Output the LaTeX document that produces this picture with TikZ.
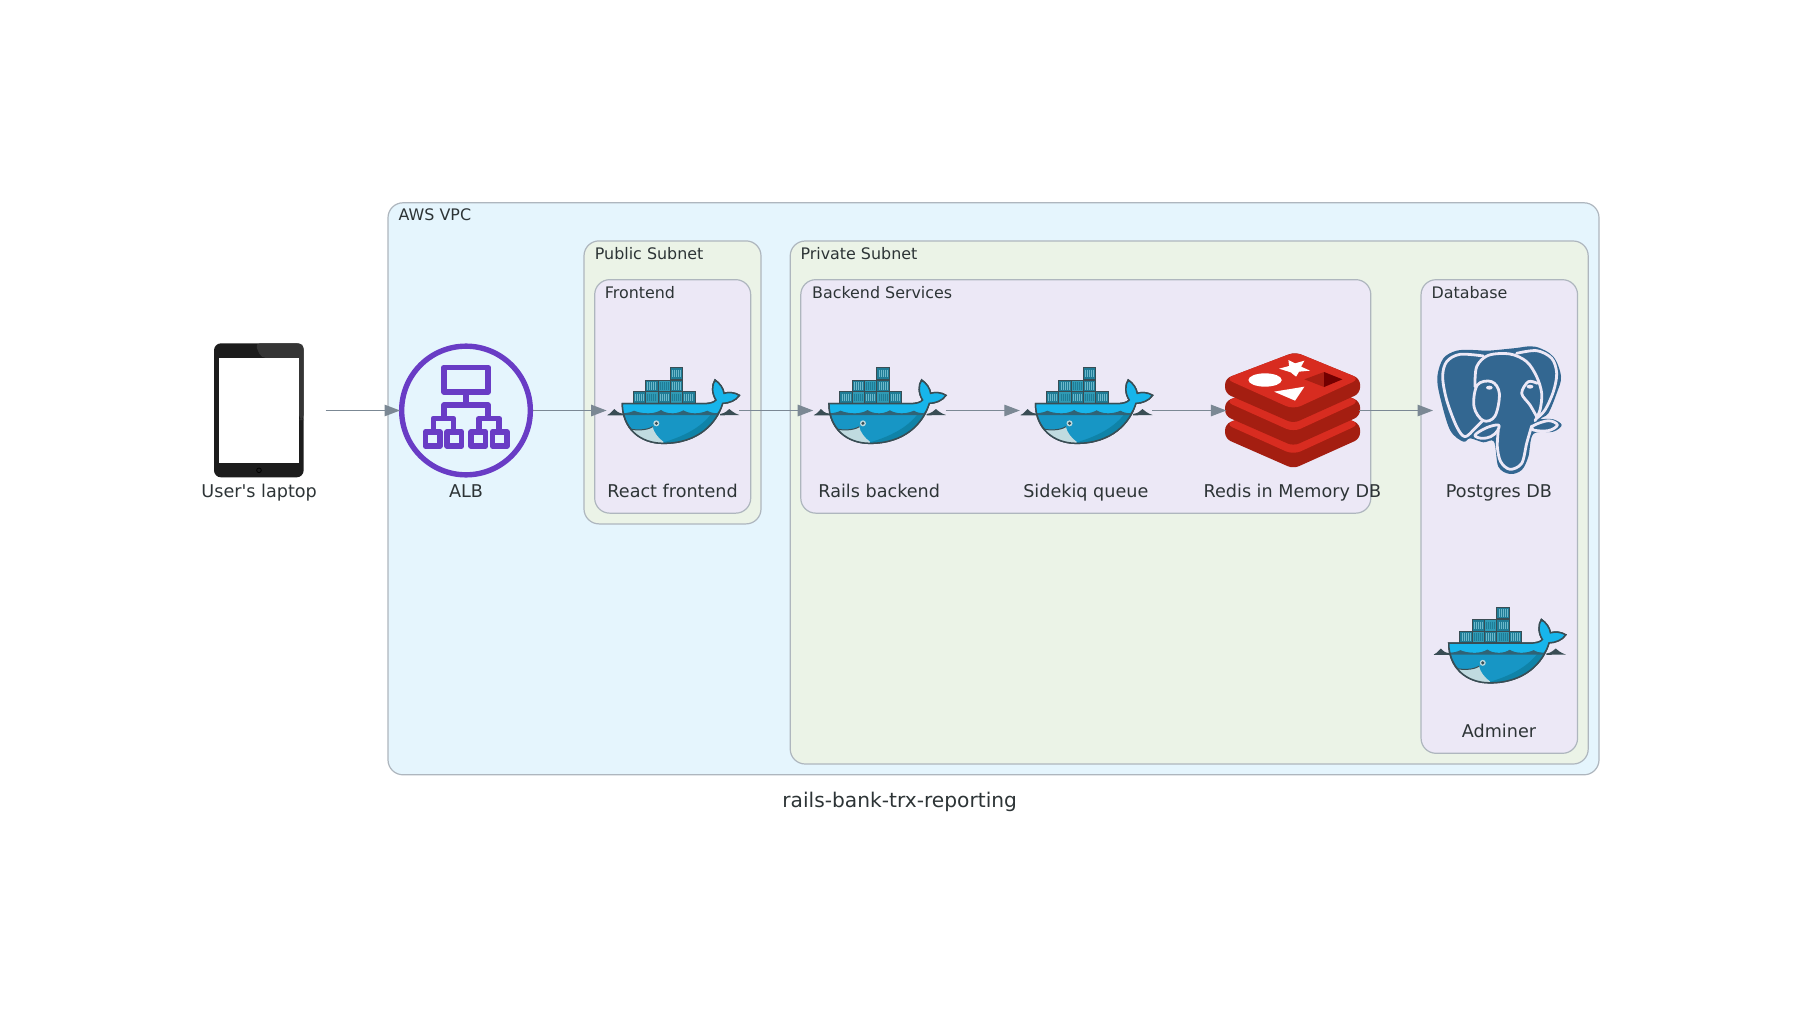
\documentclass[tikz,border=0pt]{standalone}
\usepackage{fontspec}
\newfontfamily\labelfont{DejaVu Sans}
\usetikzlibrary{arrows.meta}
\definecolor{edgegray}{HTML}{7B8894}
\definecolor{boxline}{HTML}{AEB6BE}
\definecolor{vpcfill}{HTML}{E5F5FD}
\definecolor{subfill}{HTML}{EBF3E7}
\definecolor{svcfill}{HTML}{ECE8F6}
\definecolor{inktext}{HTML}{2D3436}
\definecolor{albpurple}{HTML}{693CC5}
\definecolor{whaleink}{HTML}{394D54}
\definecolor{whalemid}{HTML}{1796C5}
\definecolor{whalelight}{HTML}{17B5EB}
\definecolor{whaledark}{HTML}{0F83A8}
\definecolor{whalebelly}{HTML}{C0DBE0}
\definecolor{crateA}{HTML}{1F7C96}
\definecolor{crateB}{HTML}{2F9AB5}
\definecolor{redistop}{HTML}{D82C20}
\definecolor{redisside}{HTML}{A41E11}
\definecolor{pgblue}{HTML}{336791}
\definecolor{tabletdark}{HTML}{1C1C1C}
\definecolor{tabletglare}{HTML}{353535}
\tikzset{
  clusterbox/.style={draw=boxline,line width=1.2pt,rounded corners=15pt,inner sep=0pt,outer sep=0pt},
  iconbox/.style={minimum size=134pt,inner sep=0pt,outer sep=0pt},
  nodetext/.style={anchor=base,text=inktext,inner sep=0pt,font=\labelfont\fontsize{17.6}{20}\selectfont},
  clustertext/.style={anchor=base west,text=inktext,inner sep=0pt,font=\labelfont\fontsize{15.9}{18}\selectfont},
  flow/.style={draw=edgegray,line width=1.2pt,shorten >=-1pt,shorten <=-.5pt,-{Triangle[length=15.5pt,width=11.5pt]}},
  crate/.pic={
    \fill[crateA,draw=whaleink,line width=.9pt] (0,0) rectangle (37,35);
    \foreach \k in {8,14,20,26,32}{\draw[crateB!70!white,line width=.45pt] (\k-2,6) -- (\k-2,29);}
  },
  cratelight/.pic={
    \fill[crateB,draw=whaleink,line width=.9pt] (0,0) rectangle (37,35);
    \foreach \k in {8,14,20,26,32}{\draw[crateA,line width=.45pt] (\k-2,6) -- (\k-2,29);}
  },
  whalepic/.pic={
    \begin{scope}[x=.33333pt,y=-.33333pt,shift={(-187.8,-151.5)}]
      \foreach \cx/\cy in {70/95,144/95,218/95,107/60,181/60,181/23}{\pic at (\cx,\cy) {crate};}
      \foreach \cx/\cy in {107/95,181/95,144/60}{\pic at (\cx,\cy) {cratelight};}
      \fill[whaleink] (-8,165) .. controls (4,160) and (8,150) .. (13,147) .. controls (18,152) and (24,160) .. (40,161) -- (40,166) -- (-8,166) -- cycle;
      \fill[whaleink] (330,162) .. controls (345,160) and (352,152) .. (358,147) .. controls (364,152) and (372,160) .. (388,165) -- (330,166) -- cycle;
      \path[draw=whaleink,line width=1.5pt,fill=whalemid,save path=\whalebody]
        (37,131) -- (280,131) .. controls (297,131) and (312,128) .. (318,120)
        .. controls (305,100) and (305,75) .. (315,60)
        .. controls (330,70) and (340,85) .. (342,100)
        .. controls (355,96) and (375,97) .. (388,106)
        .. controls (378,122) and (355,130) .. (338,130)
        .. controls (320,190) and (265,250) .. (160,250)
        .. controls (90,250) and (37,205) .. (37,131) -- cycle;
      \begin{scope}
        \clip[use path=\whalebody];
        \fill[whaledark] (150,250) .. controls (240,225) and (290,190) .. (318,140) -- (350,250) -- cycle;
        \fill[whalelight] (30,125) -- (400,50) -- (400,125) -- (340,135) -- (320,160)
          .. controls (305,160) and (298,156) .. (292,152)
          .. controls (284,156) and (270,160) .. (255,160)
          .. controls (240,160) and (228,156) .. (220,151)
          .. controls (212,156) and (200,160) .. (188,160)
          .. controls (172,160) and (160,156) .. (153,150)
          .. controls (145,156) and (130,160) .. (115,160)
          .. controls (95,160) and (80,156) .. (72,152)
          .. controls (65,156) and (55,160) .. (30,160) -- cycle;
        \fill[whaleink!70!whalemid] (30,160)
          .. controls (55,160) and (65,156) .. (72,152)
          .. controls (80,156) and (95,160) .. (115,160)
          .. controls (130,160) and (145,156) .. (153,150)
          .. controls (160,156) and (172,160) .. (188,160)
          .. controls (200,160) and (212,156) .. (220,151)
          .. controls (228,156) and (240,160) .. (255,160)
          .. controls (270,160) and (284,156) .. (292,152)
          .. controls (298,156) and (305,160) .. (330,160) -- (330,165) -- (30,165) -- cycle;
        \fill[whalebelly] (50,205) .. controls (75,212) and (110,212) .. (128,200)
          .. controls (130,215) and (145,235) .. (160,245) -- (160,260) -- (50,260) -- cycle;
        \draw[whaleink,line width=1pt] (50,205) .. controls (75,212) and (110,212) .. (128,200);
      \end{scope}
      \draw[whaleink,line width=1.5pt] (37,131) -- (280,131) .. controls (297,131) and (312,128) .. (318,120)
        .. controls (305,100) and (305,75) .. (315,60)
        .. controls (330,70) and (340,85) .. (342,100)
        .. controls (355,96) and (375,97) .. (388,106)
        .. controls (378,122) and (355,130) .. (338,130)
        .. controls (320,190) and (265,250) .. (160,250)
        .. controls (90,250) and (37,205) .. (37,131) -- cycle;
      \fill[whalebelly] (139,190) circle[radius=9];
      \fill[whaleink] (139,190) circle[radius=5];
    \end{scope}
  },
  tabletpic/.pic={
    \begin{scope}[x=.33333pt,y=-.33333pt,shift={(-237.6,-271.5)}]
      \fill[tabletdark,rounded corners=7pt] (102,70) rectangle (371,472);
      \fill[tabletglare,rounded corners=5pt] (225,70) -- (371,70) -- (371,300) -- (357,300) -- (357,114) -- (243,114) -- cycle;
      \fill[white] (118,114) rectangle (356,430);
      \draw[black,line width=.8pt] (237,451) circle[radius=7];
    \end{scope}
  },
  albpic/.pic={
    \begin{scope}[x=.33333pt,y=-.33333pt,shift={(-858,-271.5)}]
      \draw[albpurple,line width=5.4pt] (858,271.5) circle[radius=193];
      \begin{scope}[draw=albpurple,line width=5.6pt,line join=round]
        \draw (792,142) rectangle (924,216);
        \draw (858,216) -- (858,255);
        \draw (792,292) -- (792,255) -- (924,255) -- (924,292);
        \draw (760,332) -- (760,295) -- (820,295) -- (820,332);
        \draw (897,332) -- (897,295) -- (957,295) -- (957,332);
        \foreach \bx in {736,801,873,937}{\draw (\bx,336) rectangle (\bx+44,378);}
      \end{scope}
    \end{scope}
  },
  redispic/.pic={
    \begin{scope}[x=.33333pt,y=-.33333pt,shift={(-232,-211.5)}]
      \foreach \dy in {136,68,0}{
        \begin{scope}[yshift=-\dy*.33333pt]
          \fill[redisside,rounded corners=6pt] (30,116) -- (30,160) -- (235,250) -- (435,160) -- (435,116) -- (240,36) -- cycle;
          \fill[redistop,rounded corners=8pt] (30,116) -- (240,36) -- (435,116) -- (235,208) -- cycle;
        \end{scope}
      }
      \fill[white] (220,60) -- (240,70) -- (268,62) -- (258,80) -- (285,92) -- (252,95) -- (243,110) -- (227,97) -- (192,86) -- (222,78) -- cycle;
      \fill[white] (150,120) ellipse[x radius=50,y radius=20];
      \fill[white] (177,155) -- (268,140) -- (240,182) -- cycle;
      \fill[redisside!90!redistop] (268,118) -- (327,96) -- (327,141) -- cycle;
      \fill[black!50!red!90!black] (327,96) -- (382,118) -- (327,141) -- cycle;
    \end{scope}
  },
  pgpic/.pic={
    \begin{scope}[x=.33333pt,y=-.33333pt,shift={(-237,-241.5)}]
      \fill[pgblue,line join=round] plot[smooth cycle,tension=.55] coordinates {
        (205,62) (280,55) (345,50) (400,80) (423,140) (410,190) (385,250) (362,266) (400,268) (425,285) (400,305) (340,312)
        (325,380) (305,420) (270,432) (235,410) (222,335) (190,337) (150,325) (130,335) (90,300) (60,200) (52,140) (70,85) (110,62) (160,60)};
      \begin{scope}[draw=svcfill,line width=2.8pt,line cap=round,line join=round]
        \draw plot[smooth,tension=.55] coordinates {(190,78) (120,73) (80,95) (68,140) (80,210) (110,290) (135,320) (165,295) (188,272)};
        \draw plot[smooth,tension=.55] coordinates {(165,170) (170,110) (205,76) (270,72) (320,95) (350,140) (365,190) (360,240) (345,272)};
        \draw plot[smooth,tension=.55] coordinates {(290,70) (350,62) (395,85) (410,130) (400,185) (375,240) (350,265)};
        \draw plot[smooth cycle,tension=.6] coordinates {(172,165) (215,155) (238,190) (225,258) (190,272) (162,230)};
        \draw plot[smooth,tension=.55] coordinates {(350,260) (330,225) (305,190) (325,155) (352,160)};
        \draw plot[smooth cycle,tension=.6] coordinates {(165,315) (200,293) (235,285) (232,303) (212,320) (185,325)};
        \draw plot[smooth,tension=.55] coordinates {(235,300) (232,350) (242,395) (270,418) (305,400) (320,340) (335,288)};
        \draw plot[smooth cycle,tension=.6] coordinates {(340,287) (385,272) (412,285) (385,302) (340,300)};
      \end{scope}
      \fill[svcfill] (208,173) ellipse[x radius=10,y radius=6];
      \fill[svcfill] (330,170) ellipse[x radius=10,y radius=6];
    \end{scope}
  }
}
\begin{document}
\begin{tikzpicture}[x=1pt,y=-1pt]
\useasboundingbox (0,0) rectangle (1801,1011);
\fill[white] (0,0) rectangle (1801,1011);
% clusters
\node[clusterbox,fill=vpcfill,minimum width=1211pt,minimum height=572pt] (vpc) at (993.5,488.8) {};
\node[clusterbox,fill=subfill,minimum width=177pt,minimum height=283pt] (pubnet) at (672.5,382.4) {};
\node[clusterbox,fill=subfill,minimum width=798pt,minimum height=523pt] (privnet) at (1189.2,502.5) {};
\node[clusterbox,fill=svcfill,minimum width=156pt,minimum height=233.5pt] (front) at (672.7,396.4) {};
\node[clusterbox,fill=svcfill,minimum width=570pt,minimum height=233.5pt] (back) at (1085.8,396.4) {};
\node[clusterbox,fill=svcfill,minimum width=156.5pt,minimum height=473.6pt] (dbase) at (1499.3,516.5) {};
\node[clustertext] (vpclabel) at (398.5,221) {AWS VPC};
\node[clustertext] (publabel) at (594.7,259.3) {Public Subnet};
\node[clustertext] (privlabel) at (800.3,259.3) {Private Subnet};
\node[clustertext] (frontlabel) at (604.7,298.3) {Frontend};
\node[clustertext] (backlabel) at (811.9,298.3) {Backend Services};
\node[clustertext] (dblabel) at (1431.4,298.3) {Database};
% icon holders
\node[iconbox] (laptop) at (259.2,410.5) {};
\node[iconbox] (alb) at (466,410.5) {};
\node[iconbox] (react) at (672.6,410.5) {};
\node[iconbox] (rails) at (879.2,410.5) {};
\node[iconbox] (sidekiq) at (1085.8,410.5) {};
\node[iconbox] (redis) at (1292.4,410.5) {};
\node[iconbox] (postgres) at (1499,410.5) {};
\node[iconbox] (adminer) at (1499,650) {};
\pic at (laptop.center) {tabletpic};
\pic at (alb.center) {albpic};
\pic at (react.center) {whalepic};
\pic at (rails.center) {whalepic};
\pic at (sidekiq.center) {whalepic};
\pic at (redis.center) {redispic};
\pic at (postgres.center) {pgpic};
\pic at (adminer.center) {whalepic};
% labels
\node[nodetext] (t1) at (259.2,497.7) {User's laptop};
\node[nodetext] (t2) at (466,497.7) {ALB};
\node[nodetext] (t3) at (672.6,497.7) {React frontend};
\node[nodetext] (t4) at (879.2,497.7) {Rails backend};
\node[nodetext] (t5) at (1085.8,497.7) {Sidekiq queue};
\node[nodetext] (t6) at (1292.4,497.7) {Redis in Memory DB};
\node[nodetext] (t7) at (1499,497.7) {Postgres DB};
\node[nodetext] (t8) at (1499,737.3) {Adminer};
\node[anchor=base,text=inktext,inner sep=0pt,font=\labelfont\fontsize{20.2}{23}\selectfont] (title) at (899.7,807.2) {rails-bank-trx-reporting};
% connectors
\draw[flow] (laptop) -- (alb);
\draw[flow] (alb) -- (react);
\draw[flow] (react) -- (rails);
\draw[flow] (rails) -- (sidekiq);
\draw[flow] (sidekiq) -- (redis);
\draw[flow] (redis) -- (postgres);
\end{tikzpicture}
\end{document}
